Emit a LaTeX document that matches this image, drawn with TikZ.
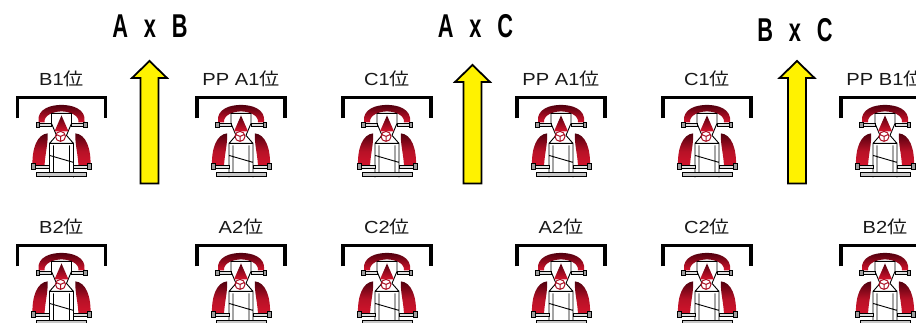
\documentclass[tikz,border=0pt]{standalone}
\usepackage{fontspec}
\setmainfont{Liberation Sans}
\newfontfamily\jpfont{Noto Sans CJK JP}

\definecolor{kartred}{RGB}{215,20,45}
\definecolor{kartdark}{RGB}{80,0,14}
\definecolor{kartgrey}{RGB}{175,175,175}

\tikzset{
    kart/.pic={
        % front bumper
        \shade[top color=kartdark, bottom color=kartred]
            (-23,17) .. controls (-25,3) and (-10,-0.5) .. (0,-0.5)
            .. controls (10,-0.5) and (25,3) .. (23,17)
            -- (17,17) .. controls (18,10) and (8,6) .. (0,6)
            .. controls (-8,6) and (-18,10) .. (-17,17) -- cycle;
        % front axle
        \foreach \s in {-1,1}{
            \draw[line width=.4pt, fill=kartgrey!40] (\s*10,18.2) rectangle (\s*22,21);
            \draw[line width=.4pt, fill=kartgrey!90!black] (\s*22,17) rectangle (\s*25.5,22.2);
        }
        % side pods
        \foreach \s in {-1,1}
            \shade[top color=kartdark, bottom color=kartred, middle color=kartred!85!black]
                (\s*14,28) .. controls (\s*24,29) and (\s*30,42) .. (\s*29,63)
                -- (\s*17,63) .. controls (\s*17,50) and (\s*13,38) .. (\s*14,28) -- cycle;
        % frame
        \draw[line width=.9pt]
            (-5,30) -- (-10,18) -- (-10,8) -- (10,8) -- (10,18) -- (5,30)
            (-5,30) -- (-12,38) -- (-12,72) (5,30) -- (12,38) -- (12,72)
            (-12,38) -- (12,38) (-8,40) -- (-8,70) (8,40) -- (8,70)
            (-12,50) -- (12,57);
        % nose
        \shade[top color=kartdark, bottom color=kartred] (0,10) -- (7,26) -- (-7,26) -- cycle;
        % steering wheel
        \draw[kartred!80!black, line width=1pt] (-1,31) circle (5)
            (-1,31) -- (-1,36) (-1,31) -- (-5.5,29) (-1,31) -- (3.5,29);
        % rear axle
        \foreach \s in {-1,1}{
            \draw[line width=.4pt, fill=kartgrey!40] (\s*12,59.5) rectangle (\s*26,62.5);
            \draw[line width=.4pt, fill=kartgrey!90!black] (\s*26,58) rectangle (\s*30,64);
        }
        % rear bumper
        \draw[line width=.5pt, fill=kartgrey!70] (-25,67) rectangle (25,71);
    }
}

\begin{document}
\begin{tikzpicture}[
        x=1pt, y=-1pt,
        slot/.style={line width=3.3pt, line join=miter},
        uparrow/.style={fill=yellow, draw=black, line width=1.8pt, line join=miter},
        title/.style={font=\fontsize{33}{33}\selectfont\bfseries, inner sep=0pt, anchor=base},
        grid/.style={font=\fontsize{17.5}{17.5}\selectfont, text=black!90, inner sep=0pt, anchor=base}
    ]
    \useasboundingbox (0,0) rectangle (916,323);
    \foreach \lx/\ax/\rx/\tx/\ty/\tip/\ta/\tb/\la/\lb/\lc/\ld [count=\i] in {
            61.5/149.5/241/150/38/61/A/B/B1/PP A1/B2/A2,
            387/472.5/561/475.5/38/65/A/C/C1/PP A1/C2/A2,
            707/797/885/795/42/61/B/C/C1/PP B1/C2/B2}{
        \node[title] (title-\i) at (\tx,\ty) {\scalebox{0.66}[1]{\ta\hspace{24pt}x\hspace{24pt}\tb}};
        % start grid
        \node[grid] (pole-\i) at (\rx,86) {\scalebox{1.15}[1]{\lb{\jpfont 位}}};
        \node[grid] (first-\i) at (\lx,86) {\scalebox{1.15}[1]{\la{\jpfont 位}}};
        \node[grid] (second-\i) at (\rx,234) {\scalebox{1.15}[1]{\ld{\jpfont 位}}};
        \node[grid] (third-\i) at (\lx,234) {\scalebox{1.15}[1]{\lc{\jpfont 位}}};
        \foreach \cx in {\lx,\rx}
            \foreach \cy in {97.4,245.4}{
                \draw[slot] (\cx-44,\cy+21) -- (\cx-44,\cy) -- (\cx+44,\cy) -- (\cx+44,\cy+21);
                \pic (kart-\i-\cx-\cy) at (\cx,\cy+8) {kart};
            }
        % direction
        \draw[uparrow] (\ax,\tip) -- (\ax+17.5,\tip+17) -- (\ax+9,\tip+17) -- (\ax+9,183.5)
            -- (\ax-9,183.5) -- (\ax-9,\tip+17) -- (\ax-17.5,\tip+17) -- cycle;
    }
\end{tikzpicture}
\end{document}
